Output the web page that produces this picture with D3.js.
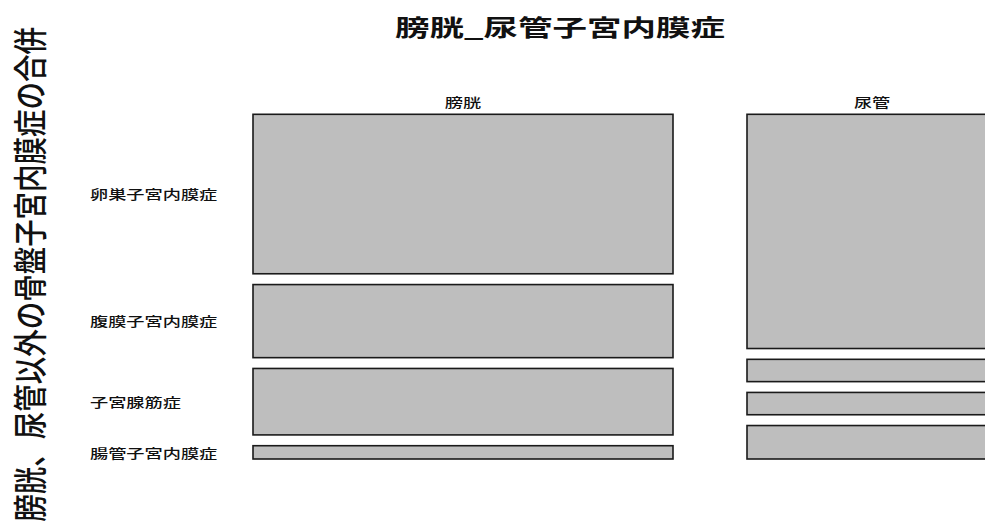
<!DOCTYPE html>
<html>
<head>
<meta charset="utf-8">
<script src="https://cdn.jsdelivr.net/npm/d3@7"></script>
<style>
    body { margin: 0; background: #fff; overflow: hidden; }
    text { font-family: "Noto Sans CJK JP", "Noto Sans", sans-serif; fill: #111; }
</style>
</head>
<body>
<div id="chart"></div>
<script>
// mosaic data: rows = comorbidity, columns = site
const columns = ["膀胱", "尿管"];
const rows = ["卵巣子宮内膜症", "腹膜子宮内膜症", "子宮腺筋症", "腸管子宮内膜症"];
const bladderCounts = [24, 11, 10, 2];
const ureterCounts = [21, 2, 2, 3];
const titleText = "膀胱_尿管子宮内膜症";
const yLabelText = "膀胱、尿管以外の骨盤子宮内膜症の合併";

const width = 985, height = 527;
const stretch = 1.4;   // the reference is drawn a bit wide
const gapX = 74, gapY = 10.8;
const plotTop = 114.3, plotBottom = 459;

let svg = d3.select("#chart")
    .append("svg")
    .attr("width", width)
    .attr("height", height);

let counts = [bladderCounts, ureterCounts];
let colTotals = counts.map(c => d3.sum(c));
let grand = d3.sum(colTotals);

// x: width of each column proportional to its total
let x = d3.scaleLinear()
    .domain([0, grand])
    .range([253, 253 + 420 * grand / colTotals[0]]);

let cells = [];
let colStart = 0;
counts.forEach(function (col, ci) {
    let y = d3.scaleLinear()
        .domain([0, colTotals[ci]])
        .range([plotTop, plotBottom - gapY * (col.length - 1)]);
    let cum = 0;
    col.forEach(function (v, ri) {
        cells.push({
            col: ci, row: ri,
            x0: x(colStart) + ci * gapX,
            x1: x(colStart + colTotals[ci]) + ci * gapX,
            y0: y(cum) + ri * gapY,
            y1: y(cum + v) + ri * gapY
        });
        cum += v;
    });
    colStart += colTotals[ci];
});

svg.append("g")
    .selectAll("rect")
    .data(cells)
    .enter()
    .append("rect")
    .attr("x", d => d.x0)
    .attr("y", d => d.y0)
    .attr("width", d => d.x1 - d.x0)
    .attr("height", d => d.y1 - d.y0)
    .attr("fill", "#bebebe")
    .attr("stroke", "#1a1a1a")
    .attr("stroke-width", 1.6);

// helper for horizontally stretched text
function label(px, py, str, size, anchor, weight, sx) {
    svg.append("g")
        .attr("transform", "translate(" + px + "," + py + ") scale(" + (sx || stretch) + ",1)")
        .append("text")
        .text(str)
        .attr("text-anchor", anchor)
        .attr("dominant-baseline", "central")
        .style("font-size", size + "px")
        .style("font-weight", weight || "500");
}

// title
label(560, 26, titleText, 23, "middle", "bold", 1.5);

// column labels
columns.forEach(function (c, ci) {
    let cell = cells.find(d => d.col === ci);
    label((cell.x0 + cell.x1) / 2, 102, c, 13, "middle");
});

// row labels, centred on first column
rows.forEach(function (r, ri) {
    let cell = cells.find(d => d.col === 0 && d.row === ri);
    label(90, (cell.y0 + cell.y1) / 2, r, 13, "start");
});

// y axis label (rotated)
svg.append("g")
    .attr("transform", "translate(28,27) scale(1.25,1) rotate(-90)")
    .append("text")
    .text(yLabelText)
    .attr("text-anchor", "end")
    .attr("dominant-baseline", "central")
    .style("font-size", "27.5px")
    .style("font-weight", "500");
</script>
</body>
</html>
